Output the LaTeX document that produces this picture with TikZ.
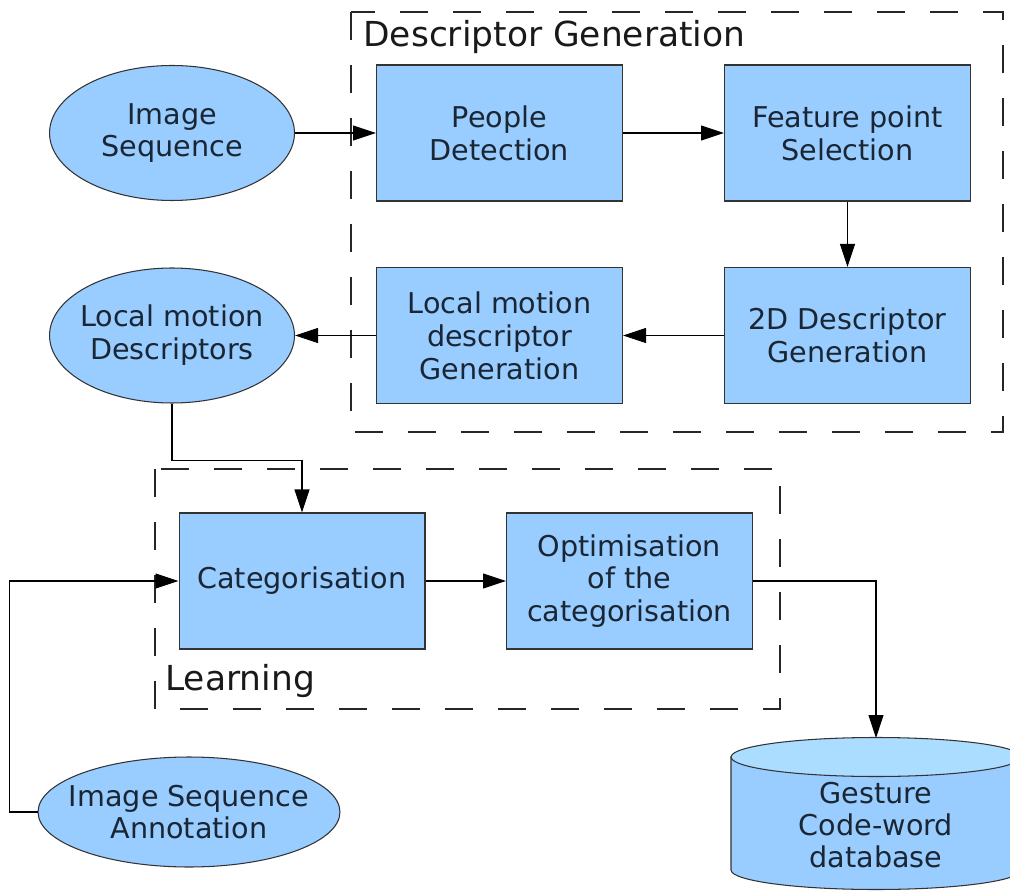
\documentclass[tikz,border=0pt]{standalone}
\usepackage{fontspec}
\setmainfont{DejaVu Sans}
\usetikzlibrary{shapes.geometric,arrows.meta}
\definecolor{boxblue}{RGB}{153,204,255}
\definecolor{topblue}{RGB}{170,221,255}
\definecolor{inkblue}{RGB}{26,38,51}
\tikzset{
 stage/.style={rectangle,draw=black!80,fill=boxblue,minimum width=4.92cm,minimum height=2.72cm,inner sep=0pt,align=center,text=inkblue,font=\fontsize{16.3}{18.7}\selectfont},
 blob/.style={ellipse,draw=black!80,fill=boxblue,inner xsep=-0.4cm,inner ysep=0pt,align=center,text=inkblue,font=\fontsize{16.3}{18.7}\selectfont},
 frame/.style={draw=black!85,dash pattern=on 0.56cm off 0.5cm},
 flow/.style={-{Triangle[length=0.46cm,width=0.3cm]}},
 title/.style={anchor=west,text=black!90,font=\fontsize{19.6}{23}\selectfont}
}

\begin{document}
\begin{tikzpicture}[x=0.02cm,y=-0.02cm,line width=0.6pt]
\useasboundingbox (0,0) rectangle (1010,891);
\draw[frame] (351,12) rectangle (1003,432);
\draw[frame] (155,469) rectangle (780,709);
\node[title] (dgtitle) at (357,37) {Descriptor Generation};
\node[title] (learntitle) at (159,681) {Learning};

\node[blob,minimum width=4.9cm,minimum height=2.7cm] (imgseq) at (172,133) {Image\\Sequence};
\node[stage] (people) at (499.5,133) {People\\Detection};
\node[stage] (feature) at (847.5,133) {Feature point\\Selection};
\node[stage] (desc2d) at (847.5,335.5) {2D Descriptor\\Generation};
\node[stage] (localgen) at (499.5,335.5) {Local motion\\descriptor\\Generation};
\node[blob,minimum width=4.9cm,minimum height=2.7cm] (localdesc) at (172,335.5) {Local motion\\Descriptors};
\node[stage] (categ) at (302,581) {Categorisation};
\node[stage] (optim) at (629.5,581) {Optimisation\\of the\\categorisation};
\node[blob,minimum width=6.04cm,minimum height=2.2cm] (annot) at (189,812) {Image Sequence\\Annotation};

% database
\filldraw[draw=black!80,fill=boxblue] (731,757) -- (731,870) arc[start angle=180,end angle=360,x radius=2.9cm,y radius=0.39cm] -- (1021,757) -- cycle;
\filldraw[draw=black!80,fill=topblue] (876,757) ellipse[x radius=2.9cm,y radius=0.39cm];
\coordinate (dbtop) at (876,738);
\node[align=center,text=inkblue,font=\fontsize{16.3}{18.4}\selectfont] (db) at (876,825) {Gesture\\Code-word\\database};

\draw[flow] (imgseq) -- (people);
\draw[flow] (people) -- (feature);
\draw[flow] (feature) -- (desc2d);
\draw[flow] (desc2d) -- (localgen);
\draw[flow] (localgen) -- (localdesc);
\draw[flow] (localdesc.south) -- ++(0,57) -| (categ.north);
\draw[flow] (annot.west) -- ++(-28,0) |- (categ.west);
\draw[flow] (categ) -- (optim);
\draw[flow] (optim.east) -| (dbtop);
\end{tikzpicture}
\end{document}
